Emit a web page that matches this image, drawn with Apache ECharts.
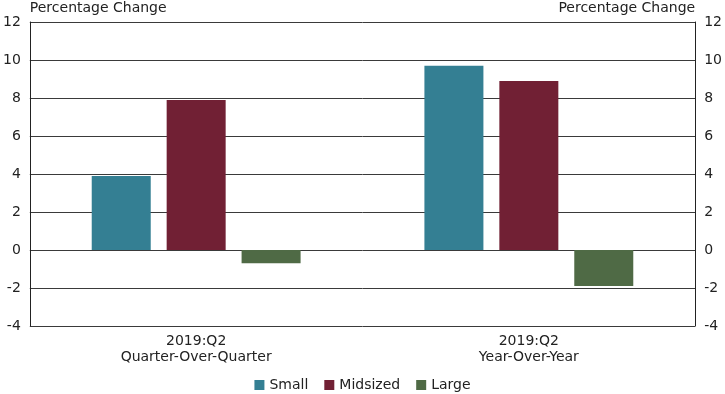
<!DOCTYPE html>
<html><head><meta charset="utf-8">
<script src="https://cdn.jsdelivr.net/npm/echarts@6/dist/echarts.min.js"></script>
<style>html,body{margin:0;padding:0;background:#fff}#c{width:725px;height:394px}</style>
</head><body><div id="c"></div>
<script>
const categories = ['2019:Q2\nQuarter-Over-Quarter', '2019:Q2\nYear-Over-Year'];
const seriesNames = ['Small', 'Midsized', 'Large'];
const smallValues = [3.9, 9.7];
const midsizedValues = [7.9, 8.9];
const largeValues = [-0.7, -1.9];
const colors = ['#347f93', '#712034', '#4f6a45'];
const yTicks = { min: -4, max: 12, interval: 2 };
const axisTitle = 'Percentage Change';

const FONT = 'DejaVu Sans';
const FS = 14;
const chart = echarts.init(document.getElementById('c'));
const dataSets = [smallValues, midsizedValues, largeValues];
const yAxisBase = (pos) => ({
  type: 'value', position: pos, min: yTicks.min, max: yTicks.max, interval: yTicks.interval,
  name: axisTitle, nameLocation: 'end', nameGap: 7,
  nameTextStyle: { color: '#222', fontFamily: FONT, fontSize: FS, align: pos === 'left' ? 'left' : 'right' },
  axisLine: { show: true, lineStyle: { color: '#222', width: 1 } },
  axisTick: { show: false },
  axisLabel: { color: '#222', fontFamily: FONT, fontSize: FS, margin: 9 },
  splitLine: { show: pos === 'left', lineStyle: { color: '#3a3a3a', width: 1 } }
});
chart.setOption({
  animation: false,
  textStyle: { fontFamily: FONT },
  grid: { left: 26, right: 27, top: 22, bottom: 68, containLabel: false },
  legend: {
    top: 373, left: 'center', itemWidth: 10, itemHeight: 10, itemGap: 16,
    icon: 'rect', textStyle: { color: '#222', fontFamily: FONT, fontSize: FS },
    data: seriesNames
  },
  xAxis: {
    type: 'category', data: categories,
    axisLine: { show: false }, axisTick: { show: false },
    axisLabel: { color: '#222', fontFamily: FONT, fontSize: FS, lineHeight: 16, margin: 7 }
  },
  yAxis: [yAxisBase('left'), yAxisBase('right')],
  series: seriesNames.map((n, i) => ({
    name: n, type: 'bar', data: dataSets[i], barWidth: 59, barGap: '27%',
    itemStyle: { color: colors[i] }
  }))
});
</script></body></html>
